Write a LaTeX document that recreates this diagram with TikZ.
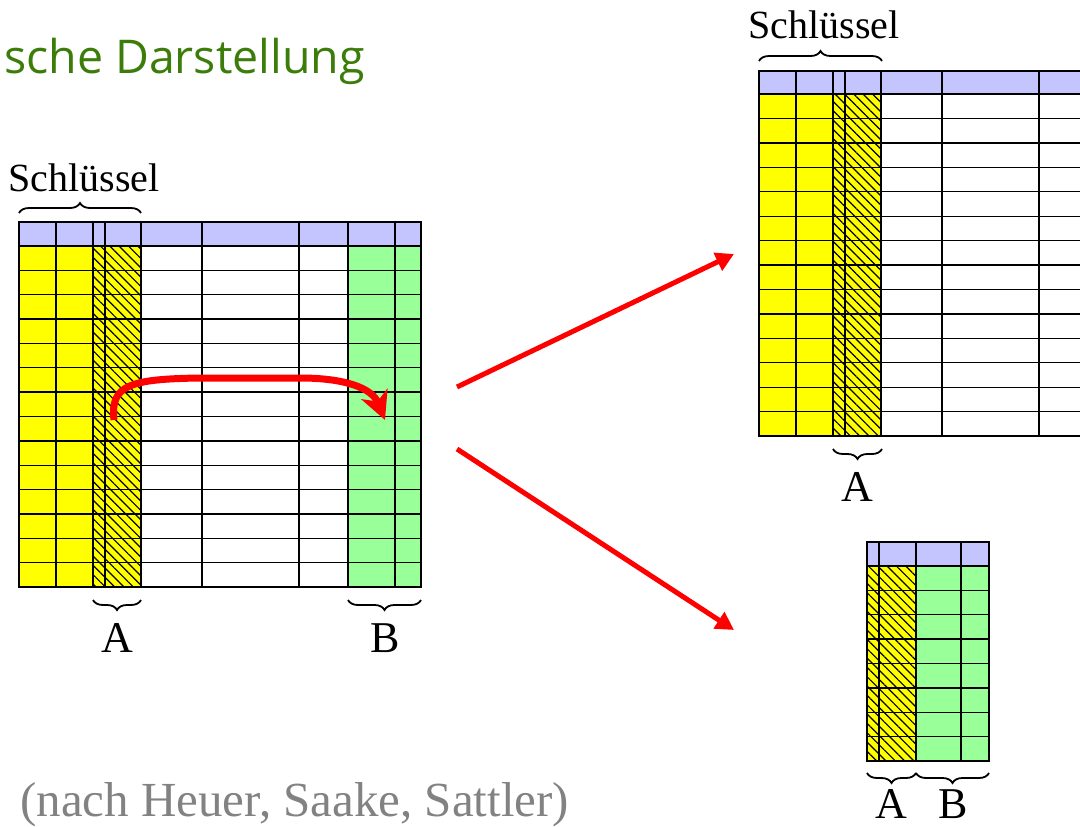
\documentclass[tikz,border=0pt]{standalone}
\usepackage{fontspec}
\setmainfont{Liberation Serif}
\newfontfamily\titlefont{Open Sans}
\usetikzlibrary{arrows.meta,patterns.meta,decorations.pathreplacing}

\definecolor{headblue}{RGB}{196,196,255}
\definecolor{keyyellow}{RGB}{255,255,0}
\definecolor{attrgreen}{RGB}{153,255,153}
\definecolor{titlegreen}{RGB}{60,125,10}
\definecolor{notegray}{RGB}{130,130,130}

\begin{document}
\begin{tikzpicture}[x=1pt,y=-1pt,>=Triangle]
		\tikzstyle{grid}=[draw=black, line width=1.3pt]
		\tikzstyle{frame}=[draw=black, line width=2.6pt]
		\tikzstyle{hatched}=[preaction={fill=keyyellow}, pattern={Lines[angle=-45,distance=6.6pt,line width=1.2pt]}]
		\tikzstyle{keybrace}=[draw=black, line width=1.8pt, decorate, decoration={brace,amplitude=10pt}]
		\tikzstyle{label}=[inner sep=0pt, anchor=base, font=\fontsize{44}{50}\selectfont]
		\tikzstyle{keylabel}=[inner sep=0pt, anchor=base, font=\fontsize{40}{46}\selectfont]
		\tikzstyle{split}=[draw=red, line width=5pt, ->, >={Triangle[length=18pt,width=19pt]}]

		\useasboundingbox (0,0) rectangle (1080,827);
		\clip (0,0) rectangle (1080,827);

		\node [inner sep=0pt, anchor=base west, text=titlegreen, font=\titlefont\fontsize{46.5}{52}\selectfont] (title) at (4,73) {sche Darstellung};

		% ganze Relation
		\fill [headblue] (19,222) rectangle (421,246);
		\fill [keyyellow] (19,246) rectangle (93,587);
		\path [hatched] (93,246) rectangle (141,587);
		\fill [attrgreen] (348,246) rectangle (421,587);
		\foreach \x in {56,93,105,141,202,299,348,395}
			\draw [grid] (\x,222) -- (\x,587);
		\foreach \i in {1,...,13}
			\draw [grid] (19,{246+\i*24.357}) -- (421,{246+\i*24.357});
		\draw [frame] (19,246) -- (421,246);
		\draw [frame] (19,222) rectangle (421,587);

		\node [keylabel] (keyL) at (84,191) {Schlüssel};
		\draw [keybrace] (19,213) -- (141,213);
		\draw [keybrace] (141,600) -- (93,600);
		\draw [keybrace] (421,600) -- (348,600);
		\node [label] (labAL) at (117,652) {A};
		\node [label] (labBL) at (385,652) {B};

		% Projektion ohne B
		\fill [headblue] (759,71) rectangle (1090,94);
		\fill [keyyellow] (759,94) rectangle (833,436);
		\path [hatched] (833,94) rectangle (881,436);
		\foreach \x in {796,833,845,881,942,1039}
			\draw [grid] (\x,71) -- (\x,436);
		\foreach \i in {1,...,13}
			\draw [grid] (759,{94+\i*24.43}) -- (1090,{94+\i*24.43});
		\draw [frame] (759,94) -- (1090,94);
		\draw [frame] (1090,71) -- (759,71) -- (759,436) -- (1090,436);

		\node [keylabel] (keyR) at (824,38) {Schlüssel};
		\draw [keybrace] (759,61) -- (882,61);
		\draw [keybrace] (882,449) -- (833,449);
		\node [label] (labAR) at (857,501) {A};

		% Projektion auf A, B
		\fill [headblue] (867,542) rectangle (989,566);
		\path [hatched] (867,566) rectangle (916,761);
		\fill [attrgreen] (916,566) rectangle (989,761);
		\foreach \x in {879,916,961}
			\draw [grid] (\x,542) -- (\x,761);
		\foreach \i in {1,...,7}
			\draw [grid] (867,{566+\i*24.375}) -- (989,{566+\i*24.375});
		\draw [grid] (867,566) -- (989,566);
		\draw [grid] (867,542) rectangle (989,761);

		\draw [keybrace] (916,773) -- (867,773);
		\draw [keybrace] (989,773) -- (916,773);
		\node [label] (labAS) at (891,818) {A};
		\node [label] (labBS) at (953,818) {B};

		\node [inner sep=0pt, anchor=base west, text=notegray, font=\fontsize{49}{55}\selectfont] (source) at (20,816) {(nach Heuer, Saake, Sattler)};

		% Pfeile
		\coordinate (srcA) at (114,420);
		\coordinate (dstB) at (385,420);
		\coordinate (fromUp) at (457,387);
		\coordinate (toUp) at (734,254);
		\coordinate (fromDown) at (457,449);
		\coordinate (toDown) at (734,630);

		\draw [draw=red, line width=7pt, -{Stealth[length=28pt,width=28pt,inset=8pt]}]
			(srcA) .. controls (110,385) and (130,379) .. (200,378) -- (300,378)
			.. controls (345,378) and (372,388) .. (dstB);
		\draw [split] (fromUp) -- (toUp);
		\draw [split] (fromDown) -- (toDown);
	\end{tikzpicture}
\end{document}
